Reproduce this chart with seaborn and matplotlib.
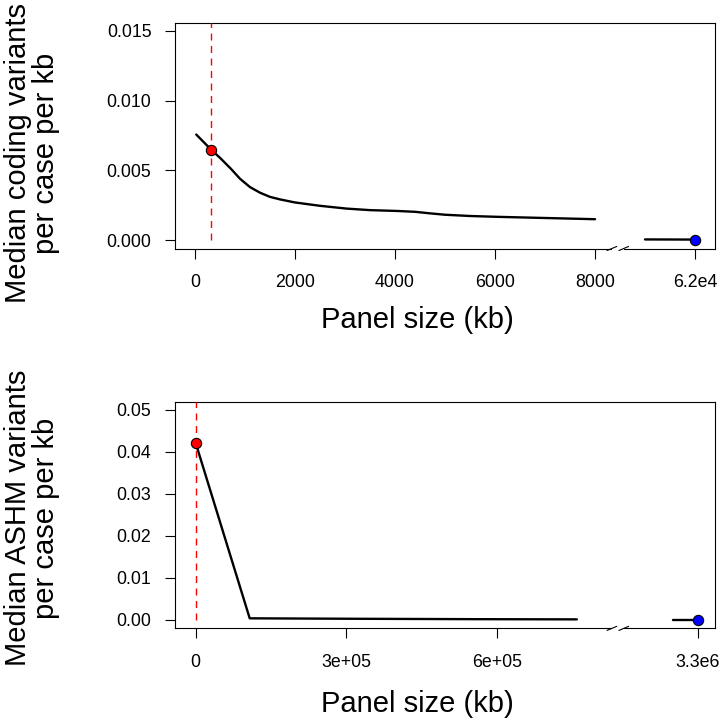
import matplotlib
matplotlib.use('Agg')
import matplotlib.pyplot as plt
import seaborn as sns
import numpy as np
import pandas as pd
from matplotlib.patches import Rectangle

sns.set_theme(style='ticks')
plt.rcParams['font.family'] = ['Liberation Sans', 'DejaVu Sans']
plt.rcParams['text.color'] = 'black'
plt.rcParams['axes.labelcolor'] = 'black'

# coding panel (kb, median variants per case per kb)
coding_kb = [25, 324, 500, 722, 900, 1100, 1300, 1500, 1700, 2000, 2500, 3032, 3500, 4050,
             4400, 4700, 5000, 5500, 6046, 7192, 8060]
coding_rate = [0.00757, 0.00648, 0.0059, 0.0051, 0.0044, 0.0038, 0.0034, 0.0031, 0.00292,
               0.0027, 0.00246, 0.00226, 0.00215, 0.00209, 0.00203, 0.00192, 0.00182,
               0.00173, 0.00167, 0.00157, 0.0015]
coding_full_kb = [61000, 62000]
coding_full_rate = [0.00005, 0.00004]
coding_sel = (324, 0.00648)
coding_xticks = [0, 2000, 4000, 6000, 8000, 62000]
coding_xlabels = ['0', '2000', '4000', '6000', '8000', '6.2e4']
coding_yticks = [0, 0.005, 0.010, 0.015]
coding_ylabels = ['0.000', '0.005', '0.010', '0.015']

# ASHM panel
ashm_kb = [300, 107700, 300000, 550000, 759000]
ashm_rate = [0.0421, 0.0004, 0.0003, 0.0002, 0.00015]
ashm_full_kb = [3250000, 3300000]
ashm_full_rate = [0.0001, 0.0001]
ashm_sel = (300, 0.0421)
ashm_xticks = [0, 300000, 600000, 3300000]
ashm_xlabels = ['0', '3e+05', '6e+05', '3.3e6']
ashm_yticks = [0, 0.01, 0.02, 0.03, 0.04, 0.05]
ashm_ylabels = ['0.00', '0.01', '0.02', '0.03', '0.04', '0.05']


def gap_scale(lo, hi, hi_c):
    # axis break: values between lo and hi squeezed into lo..hi_c
    big = 1e13
    real = [-big, lo, hi, big]
    comp = [-big, lo, hi_c, big - (hi - hi_c)]
    fwd = lambda x: np.interp(x, real, comp)
    inv = lambda x: np.interp(x, comp, real)
    return fwd, inv


def draw_panel(ax, kb, rate, full_kb, full_rate, sel, gap, xlim_c, ylim,
               xticks, xlabels, yticks, ylabels):
    df = pd.DataFrame({'kb': kb, 'rate': rate})
    sns.lineplot(data=df, x='kb', y='rate', ax=ax, color='black', lw=1.7, sort=False)
    sns.lineplot(x=full_kb, y=full_rate, ax=ax, color='black', lw=1.7)
    ax.vlines(sel[0], 0, ylim[1], colors='red', linestyles=(0, (5, 4)), lw=1, zorder=3)
    sns.scatterplot(x=[sel[0]], y=[sel[1]], ax=ax, color='red', edgecolor='black',
                    s=55, linewidth=0.8, zorder=5)
    sns.scatterplot(x=[full_kb[-1]], y=[full_rate[-1]], ax=ax, color='blue', edgecolor='black',
                    s=55, linewidth=0.8, zorder=5)

    fwd, inv = gap_scale(*gap)
    ax.set_xscale('function', functions=(fwd, inv))
    ax.set_xlim(inv(xlim_c[0]), inv(xlim_c[1]))
    ax.set_ylim(*ylim)
    ax.set_xticks(xticks)
    ax.set_xticklabels(xlabels)
    ax.set_yticks(yticks)
    ax.set_yticklabels(ylabels)
    ax.minorticks_off()
    ax.set_xlabel('')
    ax.set_ylabel('')
    ax.tick_params(axis='both', direction='out', length=7.5, width=0.8, colors='black',
                   labelcolor='black', labelsize=12.8)
    ax.tick_params(axis='x', pad=11)
    ax.tick_params(axis='y', pad=9.5)
    for s in ax.spines.values():
        s.set_visible(True)
        s.set_linewidth(0.8)
        s.set_color('black')

    # break marks on the x axis
    bx = 0.82
    ax.add_patch(Rectangle((bx - 0.011, -0.01), 0.022, 0.02, transform=ax.transAxes,
                           facecolor='white', edgecolor='none', clip_on=False, zorder=6))
    for dx in (-0.011, 0.011):
        ax.plot([bx + dx - 0.009, bx + dx + 0.009], [-0.009, 0.009], transform=ax.transAxes,
                color='black', lw=0.8, clip_on=False, zorder=7)


fig = plt.figure(figsize=(7.21, 7.21), dpi=100)
ax1 = fig.add_axes([175 / 721, 1 - 248.5 / 721, 540 / 721, 226 / 721])
ax2 = fig.add_axes([175 / 721, 1 - 628.4 / 721, 540 / 721, 226.8 / 721])

draw_panel(ax1, coding_kb, coding_rate, coding_full_kb, coding_full_rate, coding_sel,
           (8000, 61000, 9000), (-400, 10400), (-0.0006, 0.0156),
           coding_xticks, coding_xlabels, coding_yticks, coding_ylabels)
draw_panel(ax2, ashm_kb, ashm_rate, ashm_full_kb, ashm_full_rate, ashm_sel,
           (760000, 3250000, 950000), (-41000, 1034000), (-0.002, 0.052),
           ashm_xticks, ashm_xlabels, ashm_yticks, ashm_ylabels)

fig.text(32 / 721, 1 - 153 / 721, 'Median coding variants\nper case per kb', rotation=90,
         ha='center', va='center', multialignment='center', fontsize=21, linespacing=1.0,
         color='black')
fig.text(32 / 721, 1 - 518 / 721, 'Median ASHM variants\nper case per kb', rotation=90,
         ha='center', va='center', multialignment='center', fontsize=21, linespacing=1.0,
         color='black')
fig.text(417.5 / 721, 1 - 328 / 721, 'Panel size (kb)', ha='center', va='baseline',
         fontsize=21, color='black')
fig.text(417.5 / 721, 1 - 711.5 / 721, 'Panel size (kb)', ha='center', va='baseline',
         fontsize=21, color='black')

fig.savefig('out.png', dpi=100, facecolor='white')
